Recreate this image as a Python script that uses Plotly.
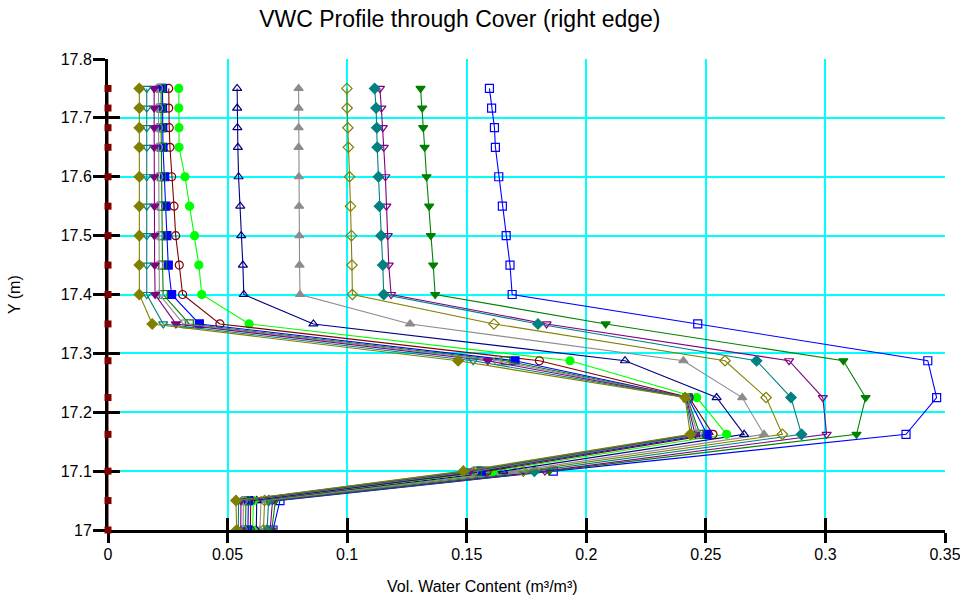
import plotly.graph_objects as go

# Elevations of the profile nodes (m), bottom to top
elev = [17.0, 17.05, 17.1, 17.1625, 17.225, 17.2875, 17.35, 17.4, 17.45,
        17.5, 17.55, 17.6, 17.65, 17.6833, 17.7167, 17.75]

# Volumetric water content at each node, one list per time step
vwc_01 = [0.0690, 0.0719, 0.1862, 0.3337, 0.3465, 0.3428, 0.2466, 0.1690,
          0.1681, 0.1665, 0.1649, 0.1634, 0.1620, 0.1616, 0.1604, 0.1595]
vwc_02 = [0.0685, 0.0700, 0.1845, 0.3130, 0.3168, 0.3075, 0.2081, 0.1368,
          0.1360, 0.1350, 0.1343, 0.1332, 0.1324, 0.1318, 0.1314, 0.1307]
vwc_03 = [0.0678, 0.0688, 0.1827, 0.3005, 0.2989, 0.2848, 0.1834, 0.1184,
          0.1174, 0.1170, 0.1164, 0.1160, 0.1153, 0.1149, 0.1143, 0.1137]
vwc_04 = [0.0665, 0.0672, 0.1783, 0.2900, 0.2856, 0.2712, 0.1798, 0.1153,
          0.1149, 0.1142, 0.1135, 0.1131, 0.1126, 0.1124, 0.1121, 0.1115]
vwc_05 = [0.0650, 0.0655, 0.1737, 0.2820, 0.2752, 0.2580, 0.1614, 0.1022,
          0.1020, 0.1018, 0.1014, 0.1010, 0.1005, 0.1003, 0.1000, 0.0999]
vwc_06 = [0.0635, 0.0640, 0.1700, 0.2743, 0.2652, 0.2406, 0.1263, 0.0803,
          0.0801, 0.0800, 0.0799, 0.0798, 0.0797, 0.0797, 0.0797, 0.0797]
vwc_07 = [0.0620, 0.0622, 0.1653, 0.2660, 0.2545, 0.2162, 0.0859, 0.0568,
          0.0564, 0.0557, 0.0553, 0.0546, 0.0543, 0.0541, 0.0540, 0.0540]
vwc_08 = [0.0605, 0.0608, 0.1610, 0.2587, 0.2462, 0.1932, 0.0590, 0.0392,
          0.0380, 0.0362, 0.0341, 0.0322, 0.0297, 0.0297, 0.0296, 0.0296]
vwc_09 = [0.0595, 0.0597, 0.1585, 0.2530, 0.2430, 0.1804, 0.0468, 0.0312,
          0.0298, 0.0283, 0.0276, 0.0266, 0.0259, 0.0256, 0.0254, 0.0254]
vwc_10 = [0.0585, 0.0587, 0.1560, 0.2505, 0.2425, 0.1702, 0.0382, 0.0266,
          0.0252, 0.0246, 0.0242, 0.0237, 0.0230, 0.0229, 0.0228, 0.0228]
vwc_11 = [0.0575, 0.0577, 0.1545, 0.2475, 0.2422, 0.1663, 0.0340, 0.0231,
          0.0228, 0.0226, 0.0225, 0.0224, 0.0223, 0.0222, 0.0222, 0.0222]
vwc_12 = [0.0565, 0.0566, 0.1530, 0.2465, 0.2420, 0.1630, 0.0315, 0.0215,
          0.0214, 0.0213, 0.0212, 0.0212, 0.0211, 0.0211, 0.0211, 0.0211]
vwc_13 = [0.0555, 0.0556, 0.1515, 0.2455, 0.2418, 0.1588, 0.0284, 0.0197,
          0.0195, 0.0194, 0.0194, 0.0193, 0.0193, 0.0193, 0.0193, 0.0193]
vwc_14 = [0.0545, 0.0546, 0.1500, 0.2445, 0.2415, 0.1527, 0.0231, 0.0162,
          0.0162, 0.0162, 0.0162, 0.0162, 0.0162, 0.0162, 0.0162, 0.0162]
vwc_15 = [0.0538, 0.0535, 0.1486, 0.2435, 0.2413, 0.1464, 0.0185, 0.0131,
          0.0131, 0.0131, 0.0131, 0.0131, 0.0131, 0.0131, 0.0131, 0.0131]
vwc_00 = [0.0] * len(elev)

x_ticks = [0, 0.05, 0.1, 0.15, 0.2, 0.25, 0.3, 0.35]
x_tick_text = ["0", "0.05", "0.1", "0.15", "0.2", "0.25", "0.3", "0.35"]
y_ticks = [17.0, 17.1, 17.2, 17.3, 17.4, 17.5, 17.6, 17.7, 17.8]
y_tick_text = ["17", "17.1", "17.2", "17.3", "17.4", "17.5", "17.6", "17.7", "17.8"]

# (values, colour, marker symbol)
series = [
    (vwc_01, "#0000FF", "square-open"),
    (vwc_02, "#008000", "triangle-down"),
    (vwc_03, "#800080", "triangle-down-open"),
    (vwc_04, "#008080", "diamond"),
    (vwc_05, "#808000", "diamond-open"),
    (vwc_06, "#8C8C8C", "triangle-up"),
    (vwc_07, "#000080", "triangle-up-open"),
    (vwc_08, "#00FF00", "circle"),
    (vwc_09, "#800000", "circle-open"),
    (vwc_10, "#0000FF", "square"),
    (vwc_11, "#008000", "square-open"),
    (vwc_12, "#8C8C8C", "circle-open"),
    (vwc_13, "#800080", "triangle-down"),
    (vwc_14, "#008080", "triangle-down-open"),
    (vwc_15, "#808000", "diamond"),
]

FONT = "Liberation Sans, Arial, sans-serif"

fig = go.Figure()
for vals, col, sym in series:
    fig.add_trace(go.Scatter(
        x=vals, y=elev, mode="lines+markers",
        line=dict(color=col, width=1.1),
        marker=dict(symbol=sym, size=8, color=col,
                    line=dict(color=col, width=1.2)),
        showlegend=False,
    ))

# initial condition, sitting on the vertical axis
fig.add_trace(go.Scatter(
    x=vwc_00, y=elev, mode="lines+markers", cliponaxis=False,
    line=dict(color="#800000", width=1.1),
    marker=dict(symbol="square", size=7, color="#800000"),
    showlegend=False,
))

# companion axes that carry the inward half of each tick mark
fig.add_trace(go.Scatter(x=[], y=[], xaxis="x2", yaxis="y2", showlegend=False))

fig.update_layout(
    width=960, height=598,
    margin=dict(l=108, r=15, t=59, b=68, autoexpand=False),
    paper_bgcolor="white", plot_bgcolor="white",
    font=dict(family=FONT, size=16, color="#000000"),
    title=dict(text="VWC Profile through Cover (right edge)",
               x=0.479, xref="container", xanchor="center",
               y=1 - 19 / 598, yref="container", yanchor="middle",
               font=dict(family=FONT, size=23, color="#000000")),
    xaxis=dict(range=[0, 0.35], tickvals=x_ticks, ticktext=x_tick_text,
               showgrid=True, gridcolor="#00FFFF", gridwidth=1.5,
               zeroline=False, showline=True, linecolor="black", linewidth=3,
               ticks="outside", ticklen=10, tickwidth=3, tickcolor="black",
               ticklabelstandoff=-2, ticklabeloverflow="allow",
               automargin=False, layer="below traces", fixedrange=True),
    yaxis=dict(range=[17.0, 17.8], tickvals=y_ticks, ticktext=y_tick_text,
               showgrid=True, gridcolor="#00FFFF", gridwidth=1.5,
               zeroline=False, showline=True, linecolor="black", linewidth=3,
               ticks="outside", ticklen=12, tickwidth=3, tickcolor="black",
               ticklabelstandoff=-2, ticklabeloverflow="allow",
               automargin=False, layer="below traces", fixedrange=True),
    xaxis2=dict(overlaying="x", matches="x", anchor="y2", side="bottom",
                tickvals=x_ticks, showticklabels=False, showgrid=False,
                zeroline=False, showline=False, ticks="inside", ticklen=12,
                tickwidth=3, tickcolor="black", layer="below traces",
                automargin=False),
    yaxis2=dict(overlaying="y", matches="y", anchor="x2", side="left",
                tickvals=y_ticks, showticklabels=False, showgrid=False,
                zeroline=False, showline=False, ticks="inside", ticklen=12,
                tickwidth=3, tickcolor="black", layer="below traces",
                automargin=False),
    annotations=[
        dict(text="Vol. Water Content (m³/m³)", xref="paper", yref="paper",
             x=0.447, y=-0.12, xanchor="center", yanchor="middle",
             showarrow=False, font=dict(family=FONT, size=16)),
        dict(text="Y (m)", xref="paper", yref="paper",
             x=-0.111, y=0.499, xanchor="center", yanchor="middle",
             textangle=-90, showarrow=False, font=dict(family=FONT, size=16)),
    ],
)

fig.write_html("out.html")
